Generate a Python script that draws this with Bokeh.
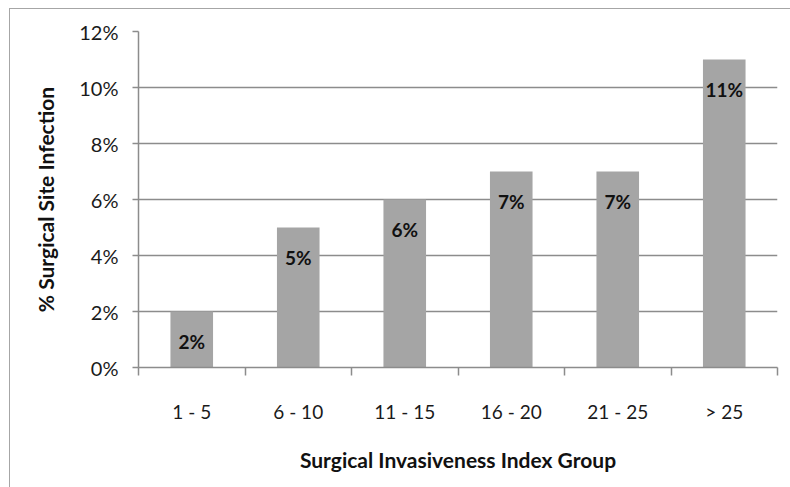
from bokeh.plotting import figure
from bokeh.models import (ColumnDataSource, FixedTicker, NumeralTickFormatter,
                          LabelSet, Range1d, InlineStyleSheet)
from bokeh.core.properties import value
from bokeh.embed import file_html
from bokeh.resources import INLINE

categories = ["1 - 5", "6 - 10", "11 - 15", "16 - 20", "21 - 25", "> 25"]
values = [0.02, 0.05, 0.06, 0.07, 0.07, 0.11]
y_ticks = [0, 0.02, 0.04, 0.06, 0.08, 0.10, 0.12]

FONT = "Lato"
x_pos = [i + 0.5 for i in range(len(categories))]
labels = [f"{round(v * 100)}%" for v in values]
src = ColumnDataSource(dict(x=x_pos, top=values, label=labels))

p = figure(width=790, height=487, output_backend="svg", toolbar_location=None,
           x_range=Range1d(0, len(categories)), y_range=Range1d(0, 0.12),
           min_border_left=138, min_border_right=13, min_border_top=31,
           min_border_bottom=120)
p.outline_line_color = None
p.background_fill_color = "white"
p.border_fill_color = "white"

p.vbar(x="x", top="top", width=0.4, bottom=0, source=src,
       fill_color="#a5a5a5", line_color=None)

p.add_layout(LabelSet(x="x", y="top", text="label", source=src,
                      text_align="center", text_baseline="middle", y_offset=-30,
                      text_font=value(FONT), text_font_style="bold",
                      text_font_size="19px", text_color="#111111"))

# x axis
p.xaxis.ticker = FixedTicker(ticks=x_pos, minor_ticks=list(range(len(categories) + 1)))
p.xaxis.major_label_overrides = {x: c for x, c in zip(x_pos, categories)}
p.xaxis.major_tick_out = 0
p.xaxis.major_tick_in = 0
p.xaxis.minor_tick_out = 8
p.xaxis.minor_tick_in = 0
p.xaxis.minor_tick_line_color = "#8c8c8c"
p.xaxis.minor_tick_line_width = 1.5
p.xaxis.axis_line_color = "#8c8c8c"
p.xaxis.axis_line_width = 1.5
p.xaxis.major_label_standoff = 24
p.xaxis.major_label_text_font = FONT
p.xaxis.major_label_text_font_size = "19px"
p.xaxis.major_label_text_color = "#1a1a1a"
p.xaxis.axis_label = "Surgical Invasiveness Index Group"
p.xaxis.axis_label_text_font = FONT
p.xaxis.axis_label_text_font_style = "bold"
p.xaxis.axis_label_text_font_size = "21px"
p.xaxis.axis_label_text_color = "#111111"
p.xaxis.axis_label_standoff = 21

# y axis
p.yaxis.ticker = FixedTicker(ticks=y_ticks, minor_ticks=[])
p.yaxis.formatter = NumeralTickFormatter(format="0%")
p.yaxis.major_tick_out = 6
p.yaxis.major_tick_in = 0
p.yaxis.major_tick_line_color = "#8c8c8c"
p.yaxis.major_tick_line_width = 1.5
p.yaxis.axis_line_color = "#8c8c8c"
p.yaxis.axis_line_width = 1.5
p.yaxis.major_label_standoff = 14
p.yaxis.major_label_text_font = FONT
p.yaxis.major_label_text_font_size = "20px"
p.yaxis.major_label_text_color = "#1a1a1a"
p.yaxis.axis_label = "% Surgical Site Infection"
p.yaxis.axis_label_text_font = FONT
p.yaxis.axis_label_text_font_style = "bold"
p.yaxis.axis_label_text_font_size = "21px"
p.yaxis.axis_label_text_color = "#111111"
p.yaxis.axis_label_standoff = 18

p.xgrid.grid_line_color = None
p.ygrid.ticker = FixedTicker(ticks=y_ticks)
p.ygrid.grid_line_color = "#8c8c8c"
p.ygrid.grid_line_width = 1.5

# outer chart border (left and top edges visible in the window)
p.stylesheets = [InlineStyleSheet(css="""
:host { position: relative; }
:host::after {
  content: ""; position: absolute; left: 9px; top: 8px; right: 0; bottom: 0;
  border-left: 1.5px solid #a6a6a6; border-top: 1.5px solid #a6a6a6;
  pointer-events: none; z-index: 10;
}
""")]

open("out.html", "w").write(file_html(p, INLINE))
